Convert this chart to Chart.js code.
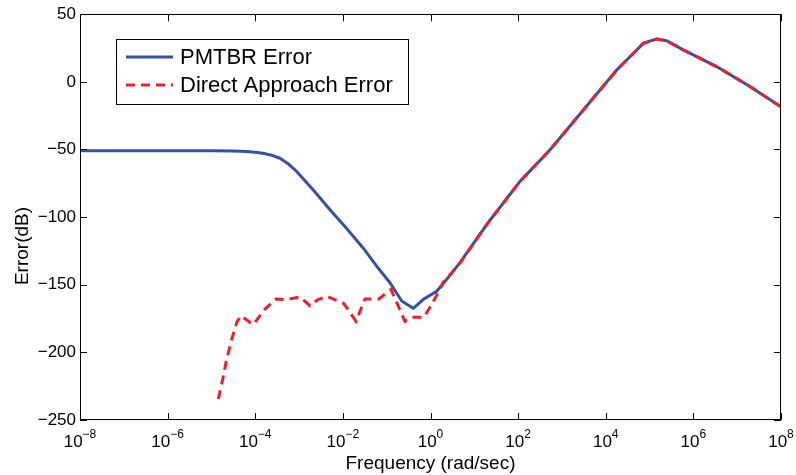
<!DOCTYPE html>
<html>
<head>
<meta charset="utf-8">
<script src="https://cdn.jsdelivr.net/npm/chart.js@4.4.0/dist/chart.umd.min.js"></script>
<style>
body{margin:0;background:#fff;}
#wrap{width:796px;height:475px;}
</style>
</head>
<body>
<div id="wrap"><canvas id="errChart" width="796" height="475"></canvas></div>
<script>
// frequency is kept as log10(rad/sec), error in dB
var pmtbrLogFreq = [-8, -7, -6, -5, -4.5, -4.2, -3.95, -3.8, -3.6, -3.435, -3.25, -3.054, -2.675, -2.294, -1.913, -1.534, -1.228, -0.924, -0.657, -0.392, -0.164, 0.142, 0.37, 0.673, 1.283, 2.043, 2.73, 3.87, 4.25, 4.553, 4.857, 5.05, 5.163, 5.39, 5.77, 6.53, 7.29, 8];
var pmtbrErr = [-51, -51, -51, -51, -51.1, -51.5, -52.2, -53, -54.5, -56.5, -60.5, -66.3, -80, -94.5, -108.5, -123, -136.3, -148.5, -162, -167.4, -160.8, -154.8, -146, -133.7, -105.5, -73.6, -50.2, -6, 8.7, 18.5, 28.4, 30.6, 31.6, 30.4, 23.6, 11.3, -3.4, -18.5];

var directLogFreq = [-4.843, -4.743, -4.652, -4.537, -4.423, -4.332, -4.045, -3.777, -3.526, -3.275, -2.979, -2.75, -2.568, -2.363, -1.974, -1.7, -1.495, -1.176, -0.902, -0.583, -0.422, -0.148, 0.057, 0.285, 0.673, 1.283, 2.043, 2.73, 3.87, 4.25, 4.553, 4.857, 5.05, 5.163, 5.39, 5.77, 6.53, 7.29, 8];
var directErr = [-234.5, -219.8, -205, -190.3, -178, -173, -179.5, -168, -160.5, -161, -159, -165.5, -161, -158.5, -164, -177, -160.5, -160.5, -153.5, -177, -174, -174, -163, -148.5, -134, -105.5, -73.6, -50.2, -6, 8.7, 18.5, 28.4, 30.6, 31.6, 30.4, 23.6, 11.3, -3.4, -18.5];

var xTickExps = [-8, -6, -4, -2, 0, 2, 4, 6, 8];
var yTicks = [50, 0, -50, -100, -150, -200, -250];
var seriesNames = ['PMTBR Error', 'Direct Approach Error'];
var xTitle = 'Frequency (rad/sec)';
var yTitle = 'Error(dB)';

var BLUE = '#3253a3';
var RED = '#ee1f2c';
var FONT = '"Liberation Sans", Arial, Helvetica, sans-serif';

function toPoints(xs, ys){
    var pts = [];
    for (var i = 0; i < xs.length; i++){ pts.push({x: xs[i], y: ys[i]}); }
    return pts;
}

// draws box, inward ticks, x labels with exponents, titles and the legend
var matlabAxes = {
    id: 'matlabAxes',
    afterDraw: function(chart){
        var ctx = chart.ctx;
        var a = chart.chartArea;
        var xs = chart.scales.x, ys = chart.scales.y;
        ctx.save();
        ctx.strokeStyle = '#000';
        ctx.lineWidth = 1;
        ctx.setLineDash([]);
        ctx.strokeRect(Math.round(a.left) + 0.5, Math.round(a.top) + 0.5,
            Math.round(a.right - a.left) - 1, Math.round(a.bottom - a.top) - 1);

        ctx.beginPath();
        xTickExps.forEach(function(e){
            var px = Math.round(xs.getPixelForValue(e)) + 0.5;
            ctx.moveTo(px, a.bottom); ctx.lineTo(px, a.bottom - 7);
            ctx.moveTo(px, a.top); ctx.lineTo(px, a.top + 7);
        });
        yTicks.forEach(function(v){
            var py = Math.round(ys.getPixelForValue(v)) + 0.5;
            ctx.moveTo(a.left, py); ctx.lineTo(a.left + 7, py);
            ctx.moveTo(a.right, py); ctx.lineTo(a.right - 7, py);
        });
        ctx.stroke();

        // x tick labels: 10 with superscript
        ctx.fillStyle = '#000';
        ctx.textBaseline = 'alphabetic';
        ctx.textAlign = 'left';
        xTickExps.forEach(function(e){
            var px = xs.getPixelForValue(e);
            var expStr = (e < 0 ? '\u2212' : '') + Math.abs(e);
            ctx.font = '17px ' + FONT;
            var wBase = ctx.measureText('10').width;
            ctx.font = '12px ' + FONT;
            var wExp = ctx.measureText(expStr).width;
            var x0 = px - (wBase + wExp) / 2;
            ctx.font = '17px ' + FONT;
            ctx.fillText('10', x0, 447);
            ctx.font = '12px ' + FONT;
            ctx.fillText(expStr, x0 + wBase, 438);
        });

        // axis titles
        ctx.font = '19px ' + FONT;
        ctx.textAlign = 'center';
        ctx.fillText(xTitle, (a.left + a.right) / 2, 469);
        ctx.save();
        ctx.translate(28, 246);
        ctx.rotate(-Math.PI / 2);
        ctx.fillText(yTitle, 0, 0);
        ctx.restore();

        // legend
        ctx.fillStyle = '#fff';
        ctx.fillRect(116, 39, 292, 66);
        ctx.strokeStyle = '#000';
        ctx.lineWidth = 1;
        ctx.strokeRect(116.5, 39.5, 292, 65);
        var rows = [57, 85];
        ctx.lineWidth = 3;
        ctx.strokeStyle = BLUE;
        ctx.beginPath(); ctx.moveTo(126, rows[0]); ctx.lineTo(173, rows[0]); ctx.stroke();
        ctx.strokeStyle = RED;
        ctx.setLineDash([9, 6]);
        ctx.beginPath(); ctx.moveTo(126, rows[1]); ctx.lineTo(173, rows[1]); ctx.stroke();
        ctx.setLineDash([]);
        ctx.fillStyle = '#000';
        ctx.font = '22px ' + FONT;
        ctx.textAlign = 'left';
        ctx.textBaseline = 'middle';
        ctx.fillText(seriesNames[0], 180, rows[0] + 1);
        ctx.fillText(seriesNames[1], 180, rows[1] + 1);
        ctx.restore();
    }
};

const ctx = document.getElementById('errChart').getContext('2d');
const myChart = new Chart(ctx, {
    type: 'line',
    data: {
        datasets: [{
            label: seriesNames[0],
            data: toPoints(pmtbrLogFreq, pmtbrErr),
            borderColor: BLUE,
            borderWidth: 3,
            borderJoinStyle: 'round',
            pointRadius: 0,
            tension: 0,
            fill: false,
            order: 2
        }, {
            label: seriesNames[1],
            data: toPoints(directLogFreq, directErr),
            borderColor: RED,
            borderWidth: 3,
            borderDash: [9, 6],
            pointRadius: 0,
            tension: 0,
            fill: false,
            order: 1
        }]
    },
    options: {
        responsive: false,
        animation: false,
        layout: { padding: { top: 14, right: 15, left: 0, bottom: 0 } },
        plugins: { legend: { display: false }, tooltip: { enabled: false } },
        scales: {
            x: {
                type: 'linear',
                min: -8,
                max: 8,
                grid: { display: false, drawTicks: false },
                border: { display: false },
                ticks: { display: false },
                afterFit: function(scale){ scale.height = 55; }
            },
            y: {
                min: -250,
                max: 50,
                grid: { display: false, drawTicks: false },
                border: { display: false },
                afterBuildTicks: function(scale){
                    scale.ticks = yTicks.map(function(v){ return {value: v}; });
                },
                ticks: {
                    color: '#000',
                    padding: 4,
                    font: { family: FONT, size: 17 },
                    callback: function(v){ return v < 0 ? '\u2212' + (-v) : String(v); }
                },
                afterFit: function(scale){ scale.width = 80; }
            }
        }
    },
    plugins: [matlabAxes]
});
</script>
</body>
</html>
